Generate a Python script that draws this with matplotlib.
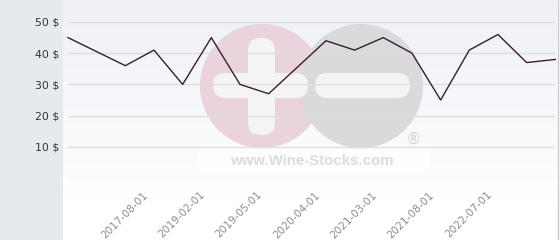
import numpy as np
import matplotlib
matplotlib.use("Agg")
import matplotlib.pyplot as plt
from matplotlib.patches import Circle, FancyBboxPatch, Rectangle
from matplotlib.transforms import ScaledTranslation

# prix (un point par date de cotation)
prix = [45, 40.5, 36, 41, 30, 45, 30, 27, 35.5, 44, 41, 45, 40, 25, 41, 46, 37, 38]
positions_dates = [3, 5, 7, 9, 11, 13, 15]
etiquettes_dates = ['2017-08-01', '2019-02-01', '2019-05-01', '2020-04-01',
                    '2021-03-01', '2021-08-01', '2022-07-01']
graduations_y = [0, 10, 20, 30, 40, 50]
etiquettes_y = ['', '10 $', '20 $', '30 $', '40 $', '50 $']

W, H = 560, 240
fig = plt.figure(figsize=(W / 100, H / 100), dpi=100)

# fond : panneau gauche + degrade + filigrane
fond = fig.add_axes([0, 0, 1, 1], zorder=0)
fond.set_xlim(0, W)
fond.set_ylim(H, 0)
fond.axis('off')
fond.add_patch(Rectangle((0, 0), 63, H, color='#e6eaed', lw=0))
degrade = np.linspace(0, 1, 256).reshape(-1, 1)
haut = np.array([0.933, 0.941, 0.965])
bas = np.array([1.0, 1.0, 1.0])
t = np.clip(degrade / 0.85, 0, 1)
img = haut * (1 - t[..., None]) + bas * t[..., None]
fond.imshow(img.reshape(256, 1, 3), extent=[63, 557, H, 0], aspect='auto', zorder=1)
fond.plot([557.5, 557.5], [0, H], color='#c8c8c8', lw=1, zorder=2)

fond.add_patch(Circle((262, 86), 62, color='#ead3dc', lw=0, zorder=3))
fond.add_patch(Circle((361, 86), 62, color='#dadadc', lw=0, zorder=4))
for x0, y0, w, h in [(248, 38, 27, 97), (213, 73, 95, 25), (315, 73, 95, 25)]:
    fond.add_patch(FancyBboxPatch((x0, y0), w, h, boxstyle='round,pad=0,rounding_size=12.5',
                                  color='#f4f4f7', lw=0, zorder=5))
fond.add_patch(Rectangle((197, 148), 233, 25, color='white', alpha=0.5, lw=0, zorder=5))
fond.text(414, 139, '®', fontsize=11, color='#d2d2d2', ha='center', va='center', zorder=6)
fond.text(312, 161, 'www.Wine-Stocks.com', family='Liberation Sans', fontweight='bold',
          fontsize=10.8, color='#dcdcdc', ha='center', va='center', zorder=6)

# zone de trace
x0, x1 = 68, 555.3
y_bas, y_haut = 178, 22
ax = fig.add_axes([x0 / W, (H - y_bas) / H, (x1 - x0) / W, (y_bas - y_haut) / H], zorder=2)
ax.patch.set_alpha(0)
ax.set_xlim(0, len(prix) - 1)
ax.set_ylim(0, 50)
for s in ax.spines.values():
    s.set_visible(False)

ax.set_yticks(graduations_y)
ax.set_yticklabels(etiquettes_y)
ax.grid(True, axis='y', color='#dedede', lw=1)
ax.tick_params(axis='y', length=0, pad=6.5, labelsize=7.8, labelcolor='#333333')

ax.set_xticks(positions_dates)
ax.set_xticklabels(etiquettes_dates)
ax.tick_params(axis='x', length=0, pad=11, labelsize=7.6, labelcolor='#8c8c8c')
for lab in ax.get_xticklabels():
    lab.set_rotation(45)
    lab.set_ha('right')
    lab.set_va('center')
    lab.set_rotation_mode('anchor')
    lab.set_transform(lab.get_transform() + ScaledTranslation(-0.08, 0, fig.dpi_scale_trans))

ax.plot(range(len(prix)), prix, color='#3a1d2c', lw=1, clip_on=False, zorder=3)

fig.savefig('out.png', dpi=100)
